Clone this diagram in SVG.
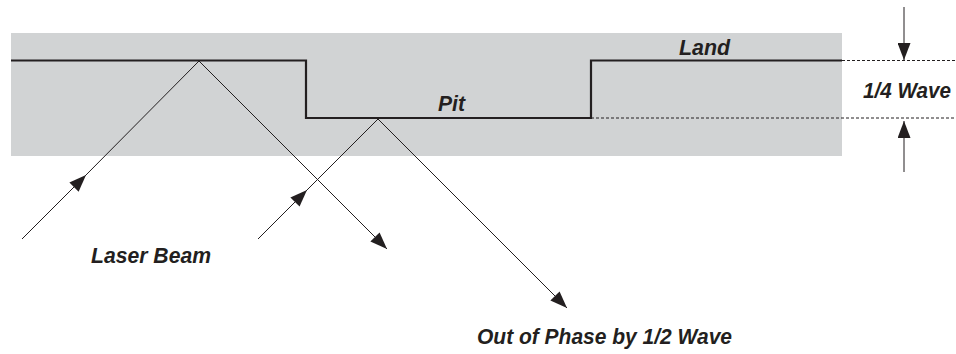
<svg xmlns="http://www.w3.org/2000/svg" width="956" height="354" viewBox="0 0 956 354">
<style>
.lbl{font-family:"Liberation Sans",Arial,sans-serif;font-weight:bold;font-style:italic;font-size:22px;fill:#231f20}
.ray{fill:none;stroke:#231f20;stroke-width:1}
.dash{fill:none;stroke:#231f20;stroke-width:1;stroke-dasharray:3,2}
</style>
<defs>
<marker id="ah" markerWidth="17" markerHeight="13" refX="17" refY="6.5" orient="auto" markerUnits="userSpaceOnUse">
<path d="M0,0 L17,6.5 L0,13 Z" fill="#231f20"/>
</marker>
</defs>
<g id="disc">
<rect x="11" y="33" width="831" height="123" fill="#d1d3d4"/>
<path d="M11,60.5 H306 V118 H591 V60.5 H842" fill="none" stroke="#231f20" stroke-width="2.2"/>
</g>
<g id="connectors">
<path class="ray" d="M22,239 L86,175 L199,61" marker-mid="url(#ah)"/>
<path class="ray" d="M199,61 L387,249" marker-end="url(#ah)"/>
<path class="ray" d="M258,239 L307,190 L378,119" marker-mid="url(#ah)"/>
<path class="ray" d="M378,119 L567,308" marker-end="url(#ah)"/>
<path class="dash" d="M842,60.5 H956"/>
<path class="dash" d="M591,118 H956"/>
<path class="ray" d="M904,7 V60" marker-end="url(#ah)"/>
<path class="ray" d="M904,172 V121" marker-end="url(#ah)"/>
</g>
<g id="labels">
<text class="lbl" x="679" y="55" textLength="51" lengthAdjust="spacingAndGlyphs">Land</text>
<text class="lbl" x="438" y="111" textLength="27" lengthAdjust="spacingAndGlyphs">Pit</text>
<text class="lbl" x="863" y="98" textLength="88" lengthAdjust="spacingAndGlyphs">1/4 Wave</text>
<text class="lbl" x="91" y="263" textLength="120" lengthAdjust="spacingAndGlyphs">Laser Beam</text>
<text class="lbl" x="477" y="344" textLength="255" lengthAdjust="spacingAndGlyphs">Out of Phase by 1/2 Wave</text>
</g>
</svg>
